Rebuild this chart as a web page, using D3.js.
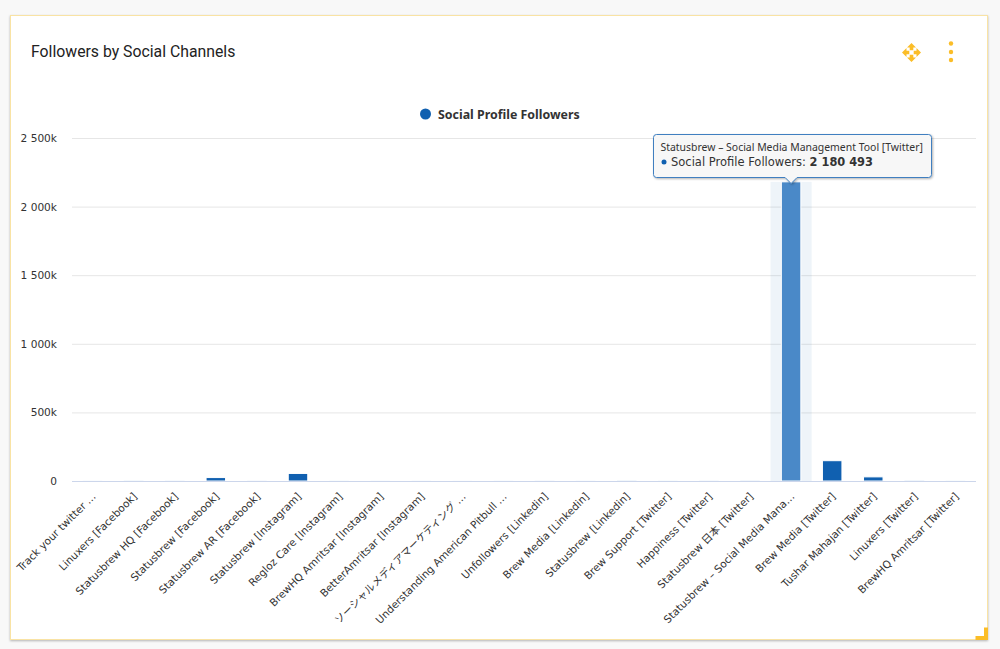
<!DOCTYPE html>
<html><head><meta charset="utf-8">
<script src="https://cdn.jsdelivr.net/npm/d3@7"></script>
<style>
html,body{margin:0;padding:0;background:#f8f8f8;}
svg{display:block;}
</style></head><body>
<svg id="c" width="1000" height="649"></svg>
<script>
const categories=["Track your twitter …","Linuxers [Facebook]","Statusbrew HQ [Facebook]","Statusbrew [Facebook]","Statusbrew AR [Facebook]","Statusbrew [Instagram]","Regloz Care [Instagram]","BrewHQ Amritsar [Instagram]","BetterAmritsar [Instagram]","ソーシャルメディアマーケティング …","Understanding American Pitbull …","Unfollowers [Linkedin]","Brew Media [Linkedin]","Statusbrew [Linkedin]","Brew Support [Twitter]","Happiness [Twitter]","Statusbrew 日本 [Twitter]","Statusbrew – Social Media Mana…","Brew Media [Twitter]","Tushar Mahajan [Twitter]","Linuxers [Twitter]","BrewHQ Amritsar [Twitter]"];
const followers=[300,800,600,25000,500,55000,400,300,300,200,300,500,300,1200,400,600,2500,2180493,148000,30000,1500,400];
const yTicks=[0,500000,1000000,1500000,2000000,2500000];
const yTickLabels=["0","500k","1 000k","1 500k","2 000k","2 500k"];
const seriesName="Social Profile Followers";
const chartTitle="Followers by Social Channels";
const tipTitle="Statusbrew – Social Media Management Tool [Twitter]";
const tipValue="2 180 493";
const hoverIndex=17;

const FONT="'DejaVu Sans','Noto Sans CJK JP',sans-serif";
const FONT2="'Noto Sans','Noto Sans CJK JP',sans-serif";
const svg=d3.select("#c");
const defs=svg.append("defs");
const f1=defs.append("filter").attr("id","cardShadow").attr("x","-2%").attr("y","-2%").attr("width","104%").attr("height","104%");
f1.append("feDropShadow").attr("dx",0).attr("dy",1).attr("stdDeviation",1.2).attr("flood-color","#000").attr("flood-opacity",0.28);
const f2=defs.append("filter").attr("id","tipShadow").attr("x","-5%").attr("y","-10%").attr("width","110%").attr("height","125%");
f2.append("feDropShadow").attr("dx",1).attr("dy",1).attr("stdDeviation",1).attr("flood-color","#000").attr("flood-opacity",0.3);

// card
svg.append("rect").attr("x",10).attr("y",15).attr("width",978).attr("height",625).attr("fill","#fff").attr("filter","url(#cardShadow)");
svg.append("rect").attr("x",10.5).attr("y",15.5).attr("width",977).attr("height",624).attr("fill","#fff").attr("stroke","#f9e3a4").attr("stroke-width",1);
svg.append("path").attr("d","M975.5 640H988V627.5H984V636H975.5Z").attr("fill","#fbbd27");

svg.append("text").attr("x",31).attr("y",56.5).attr("font-family","Roboto,sans-serif").attr("font-size",15.8).attr("fill","#222").text(chartTitle);

// icons
const ic=svg.append("g").attr("fill","#fbbd27");
const icx=911.5,icy=52.5;
[0,90,180,270].forEach(a=>{
  ic.append("path").attr("transform",`translate(${icx},${icy}) rotate(${a})`)
    .attr("d","M0 -9.5L4.5 -5H1.8V-2.2H-1.8V-5H-4.5Z");
});
[43.5,52,60].forEach(y=>ic.append("circle").attr("cx",951).attr("cy",y).attr("r",2.2));

// scales
const x=d3.scaleBand().domain(d3.range(categories.length)).range([72,976]);
const y=d3.scaleLinear().domain([0,2500000]).range([481,138]);

// grid
const yAxis=d3.axisLeft(y).tickValues(yTicks).tickFormat((d,i)=>yTickLabels[i]).tickSize(-904).tickPadding(15);
const ga=svg.append("g").attr("transform","translate(72,0)").call(yAxis);
ga.select(".domain").remove();
ga.selectAll(".tick line").attr("stroke","#e6e6e6").attr("stroke-width",1);
ga.selectAll(".tick").filter(d=>d===0).select("line").attr("stroke","none");
ga.selectAll("text").attr("font-family",FONT).attr("font-size",10.6).attr("fill","#333").attr("text-anchor","end");

// hover band
svg.append("rect").attr("x",x(hoverIndex)).attr("width",x.bandwidth()).attr("y",y(followers[hoverIndex])).attr("height",y(0)-y(followers[hoverIndex])).attr("fill","#1060b0").attr("opacity",0.07);

// bars
const bw=19.5;
svg.append("g").selectAll("rect").data(followers).join("rect")
  .attr("x",(d,i)=>x(i)+(x.bandwidth()-bw)/2).attr("width",bw)
  .attr("y",d=>y(d)).attr("height",d=>y(0)-y(d))
  .attr("fill",(d,i)=>i===hoverIndex?"#4a89c8":"#1060b0")
  .attr("stroke","#fff").attr("stroke-width",1);

// baseline on top of the bars
svg.append("line").attr("x1",72).attr("x2",976).attr("y1",y(0)+0.5).attr("y2",y(0)+0.5).attr("stroke","#ccd6eb").attr("stroke-width",1);

// x labels
const xAxis=d3.axisBottom(x).tickFormat(i=>categories[i]).tickSize(0);
const gx=svg.append("g").attr("transform","translate(0,481)").call(xAxis);
gx.select(".domain").remove();
gx.selectAll("text").attr("font-family",FONT).attr("font-size",10.5).attr("fill","#333")
  .attr("text-anchor","end").attr("y",0).attr("dy",0)
  .attr("transform","translate(4,16) rotate(-45)");

// legend
const lg=svg.append("g");
lg.append("circle").attr("cx",425.5).attr("cy",114).attr("r",5.5).attr("fill","#1060b0");
lg.append("text").attr("x",438).attr("y",119).attr("font-family",FONT2).attr("font-weight","bold").attr("font-size",12.4).attr("fill","#333").text(seriesName);

// tooltip
const cx=x(hoverIndex)+x.bandwidth()/2;
const tip=svg.append("g");
const tx=653.5,ty=134.5,tw=278,th=43;
tip.append("path")
 .attr("d",`M${tx+3} ${ty}H${tx+tw-3}Q${tx+tw} ${ty} ${tx+tw} ${ty+3}V${ty+th-3}Q${tx+tw} ${ty+th} ${tx+tw-3} ${ty+th}H${cx+6}L${cx} ${ty+th+6}L${cx-6} ${ty+th}H${tx+3}Q${tx} ${ty+th} ${tx} ${ty+th-3}V${ty+3}Q${tx} ${ty} ${tx+3} ${ty}Z`)
 .attr("fill","#f7f7f7").attr("stroke","#3f7fc0").attr("stroke-width",1).attr("filter","url(#tipShadow)");
tip.append("text").attr("x",660.5).attr("y",151).attr("font-family",FONT2).attr("font-size",10.45).attr("fill","#333").text(tipTitle);
tip.append("circle").attr("cx",664).attr("cy",162).attr("r",2.5).attr("fill","#1060b0");
const tt=tip.append("text").attr("x",671).attr("y",166).attr("font-family",FONT).attr("font-size",11.5).attr("fill","#333");
tt.append("tspan").text(seriesName+": ");
tt.append("tspan").attr("font-weight","bold").attr("font-size",11.4).text(tipValue);
</script>
</body></html>
